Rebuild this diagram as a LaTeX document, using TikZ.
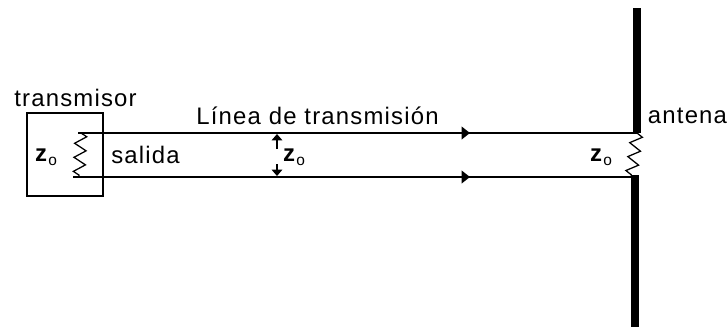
\documentclass[tikz,border=0pt]{standalone}
\usepackage{fontspec}
\usepackage{tikz}
\usetikzlibrary{arrows.meta,decorations.pathmorphing}
\setmainfont[LetterSpace=5]{Liberation Sans}
\tikzset{
  wire/.style={line width=1.4pt},
  rod/.style={line width=5pt},
  load/.style={line width=0.9pt, decorate, decoration={zigzag, amplitude=4.2pt, segment length=10pt}},
  label/.style={shape=rectangle, inner sep=0pt, font=\fontsize{17}{20}\selectfont},
  mark tip/.style={line width=1.4pt, -{Triangle[length=6pt, width=9pt]}},
  gap tip/.style={line width=1pt, -{Triangle[length=4.5pt, width=7.5pt]}},
}
\newcommand{\zo}{\textbf{z}\raisebox{-0.3ex}{\fontsize{11}{12}\selectfont o}}
\begin{document}
\begin{tikzpicture}[x=0.025cm, y=-0.025cm]
\useasboundingbox (0,0) rectangle (728,331);
\node at (75.5, 98) [label] (transmisor) {transmisor};
\node at (317.5, 116) [label] (linea) {Línea de transmisión};
\node at (145.5, 155) [label] (salida) {salida};
\node at (687.5, 116) [label] (antena) {antena};
\node at (46, 157) [label] (z1) {\zo};
\node at (294, 157) [label] (z2) {\zo};
\node at (601, 157) [label] (z3) {\zo};
\node at (65, 154.5) [shape=rectangle, draw, line width=1.2pt, minimum width=76*0.025cm, minimum height=83*0.025cm] (box) {};
\coordinate (t1) at (78, 133);
\coordinate (t2) at (470, 133);
\coordinate (t3) at (637, 133);
\coordinate (b1) at (73, 177);
\coordinate (b2) at (470, 177);
\coordinate (b3) at (631, 177);
\coordinate (b4) at (635, 175);
\coordinate (up) at (637, 8);
\coordinate (down) at (635, 327);
\coordinate (r1) at (81, 133);
\coordinate (r2) at (79, 177);
\coordinate (a1) at (277, 149);
\coordinate (a2) at (277, 134);
\coordinate (a3) at (277, 164);
\coordinate (a4) at (277, 176);
\draw [wire] (t1) to (t3);
\draw [wire] (b1) to (b3);
\draw [mark tip] (t1) to (t2);
\draw [mark tip] (b1) to (b2);
\draw [rod] (up) to (t3);
\draw [rod] (b4) to (down);
\draw [load] (r1) to (r2);
\draw [load] (t3) to (b3);
\draw [gap tip] (a1) to (a2);
\draw [gap tip] (a3) to (a4);
\end{tikzpicture}
\end{document}
